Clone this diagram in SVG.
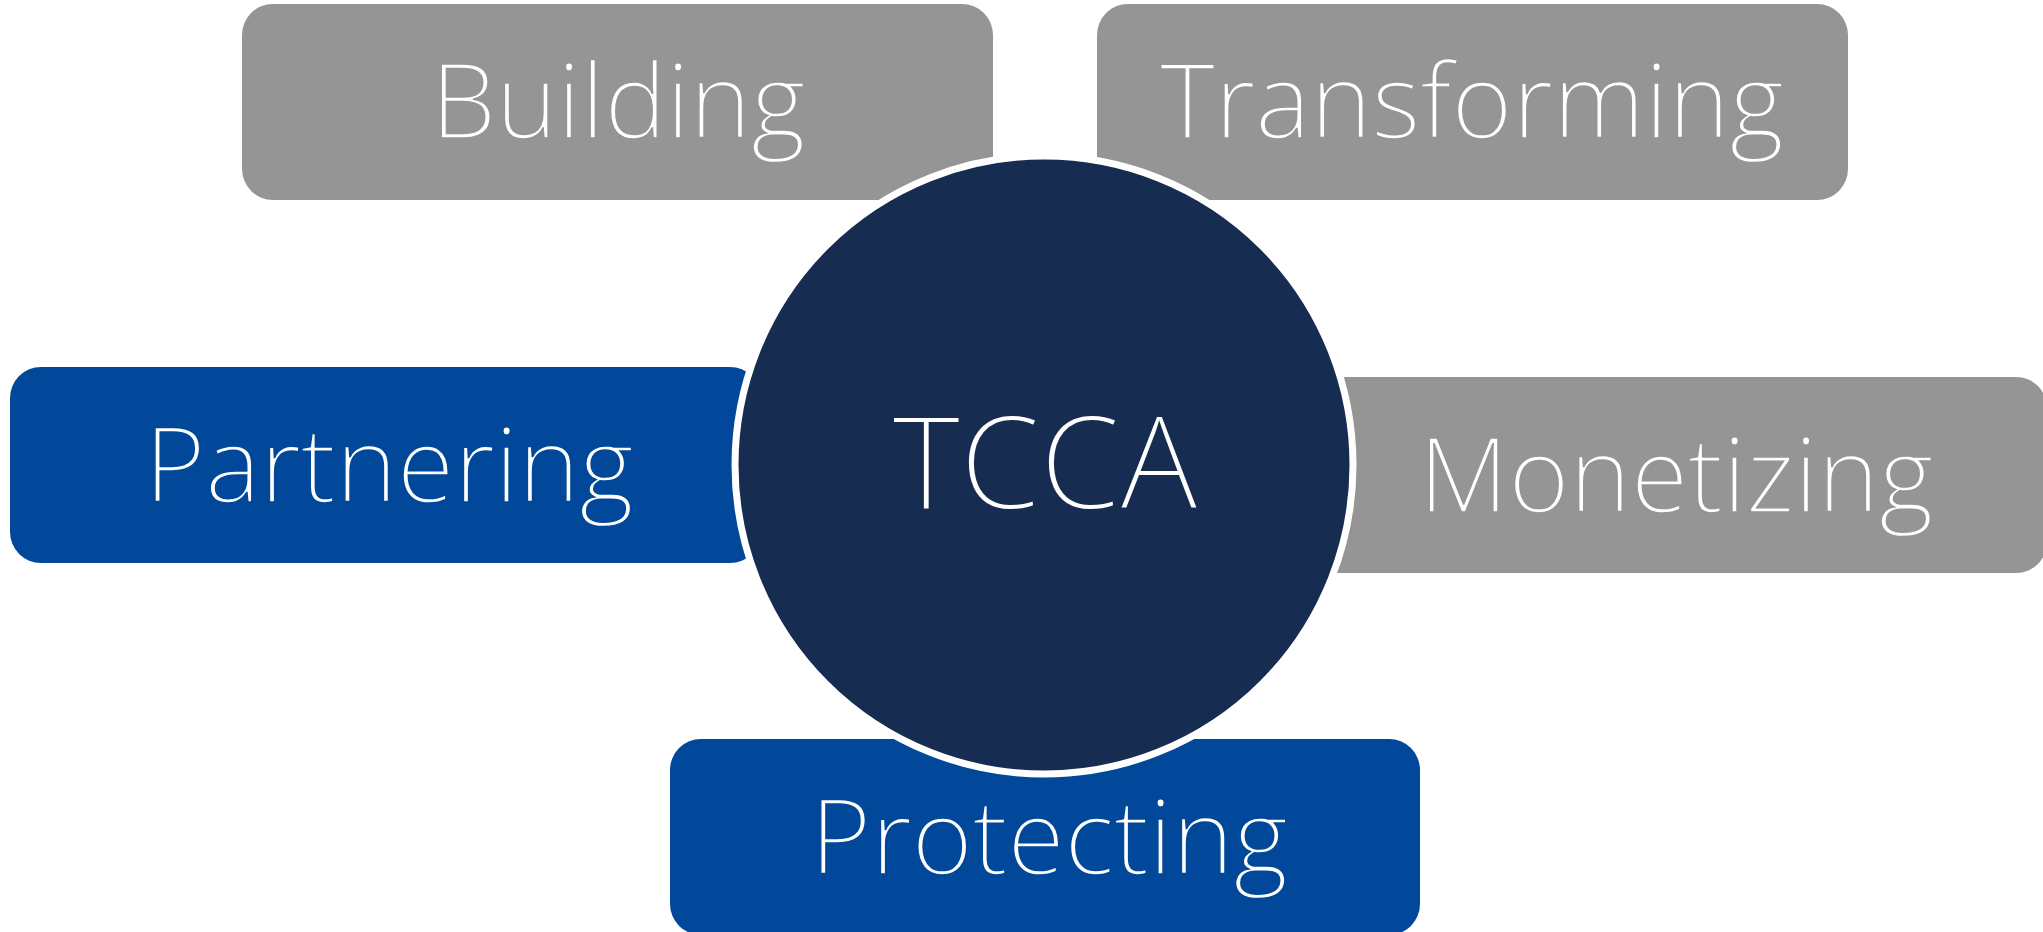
<svg xmlns="http://www.w3.org/2000/svg" width="2043" height="932" viewBox="0 0 2043 932">
  <style>
    .gray { fill: #959595; }
    .blue { fill: #01489A; }
    .lbl { font-family: "Open Sans", "Liberation Sans", sans-serif; font-weight: 300; font-size: 104px; fill: #FFFFFF; text-anchor: middle; stroke-width: 1.5; }
    .onGray { stroke: #959595; }
    .onBlue { stroke: #01489A; }
    .hub { fill: #162C51; stroke: #FFFFFF; stroke-width: 7; }
    .hubtxt { font-family: "Open Sans", "Liberation Sans", sans-serif; font-weight: 300; font-size: 129px; fill: #FFFFFF; text-anchor: middle; stroke: #162C51; stroke-width: 1.8; }
  </style>
  <rect width="2043" height="932" fill="#FFFFFF"/>
  <g id="building">
    <rect class="gray" x="242" y="4" width="751" height="196" rx="31" ry="31"/>
    <text class="lbl onGray" x="618" y="138">Building</text>
  </g>
  <g id="transforming">
    <rect class="gray" x="1097" y="4" width="751" height="196" rx="31" ry="31"/>
    <text class="lbl onGray" x="1472" y="138">Transforming</text>
  </g>
  <g id="partnering">
    <rect class="blue" x="10" y="367" width="751" height="196" rx="31" ry="31"/>
    <text class="lbl onBlue" x="389" y="502">Partnering</text>
  </g>
  <g id="monetizing">
    <rect class="gray" x="1298" y="377" width="749" height="196" rx="31" ry="31"/>
    <text class="lbl onGray" x="1676" y="512">Monetizing</text>
  </g>
  <g id="protecting">
    <rect class="blue" x="670" y="739" width="750" height="196" rx="31" ry="31"/>
    <text class="lbl onBlue" x="1049" y="874">Protecting</text>
  </g>
  <g id="connectors"></g>
  <g id="tcca">
    <circle class="hub" cx="1044" cy="465" r="309"/>
    <text class="hubtxt" x="1045" y="509">TCCA</text>
  </g>
</svg>
